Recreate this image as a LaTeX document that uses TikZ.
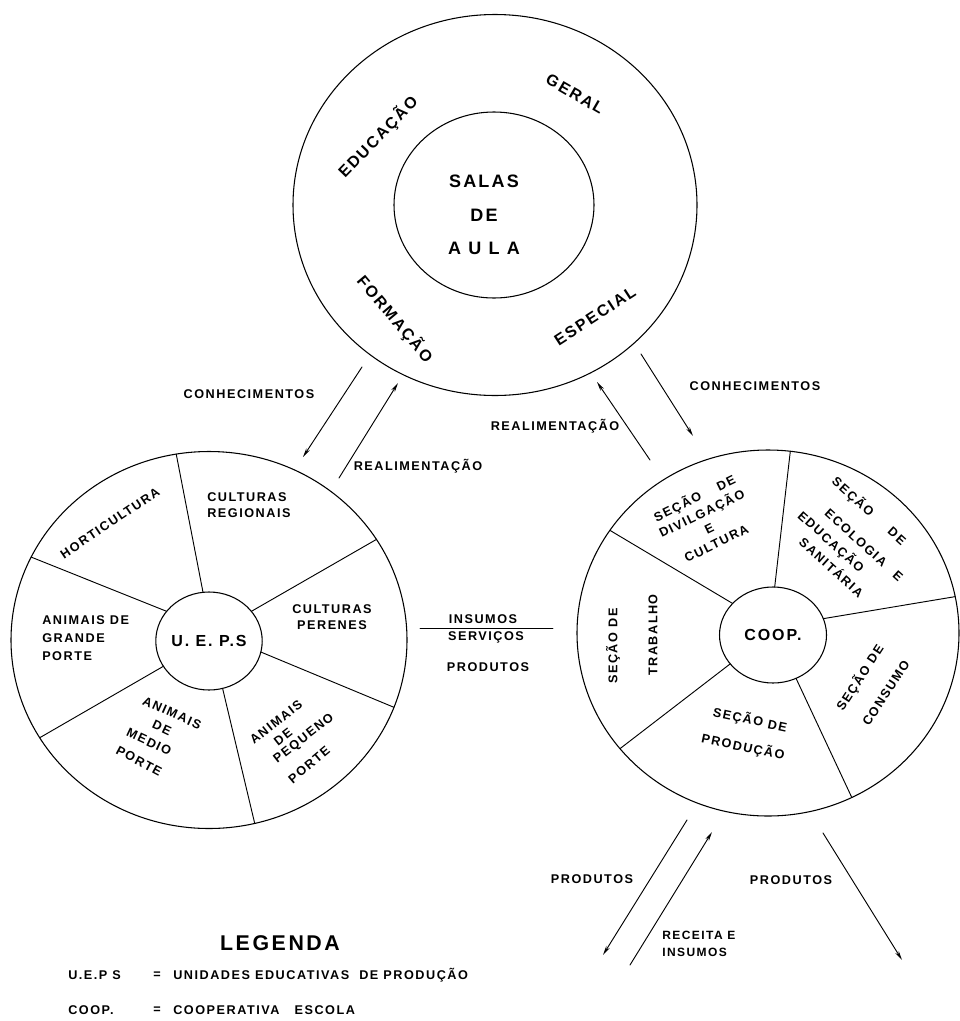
\documentclass[tikz,border=0pt]{standalone}
\usepackage{fontspec}
\setmainfont{Liberation Sans}[LetterSpace=12]
\usetikzlibrary{arrows.meta,shapes.geometric}

\begin{document}
\begin{tikzpicture}[x=0.75pt,y=-0.75pt]
\tikzset{
  ring/.style={ellipse,draw=black,line width=0.8pt,inner sep=0pt,outer sep=0pt},
  spoke/.style={draw=black,line width=0.7pt,line cap=round},
  flow/.style={draw=black,line width=0.7pt,line cap=round,-{Stealth[length=7pt,width=3pt]}},
  txt/.style={inner sep=0pt,font=\bfseries\fontsize{9.5}{12.5}\selectfont},
  ringtxt/.style={inner sep=0pt,font=\bfseries\fontsize{12}{14}\selectfont},
  hubtxt/.style={font=\bfseries\fontsize{12}{14}\selectfont}
}
\useasboundingbox (0,0) rectangle (960,1021);

% top: salas de aula
\node[ring,minimum width=303pt,minimum height=285.75pt] (n_top) at (495,205) {};
\node[ring,minimum width=150pt,minimum height=139.5pt] (n_salas) at (494,205) {};
\node[inner sep=0pt,align=center,font=\bfseries\fontsize{13.5}{25}\selectfont] (n_salas_txt) at (484,215) {SALAS\\DE\\{\addfontfeature{LetterSpace=40}AULA}};
\node[ringtxt,rotate=46] (n_edu) at (378,137) {EDUCAÇÃO};
\node[ringtxt,rotate=-30] (n_geral) at (575,94) {GERAL};
\node[ringtxt,rotate=-50] (n_form) at (395,319) {FORMAÇÃO};
\node[ringtxt,rotate=33] (n_esp) at (595,316) {ESPECIAL};

% left: U.E.P.S
\node[ring,minimum width=297pt,minimum height=282.75pt] (n_ueps_ring) at (209,640) {};
\node[ring,hubtxt,minimum width=79.5pt,minimum height=73.5pt] (n_ueps) at (209,641) {U. E. P.S};
\draw[spoke] (n_ueps.97) -- (n_ueps_ring.100.4);
\draw[spoke] (n_ueps.35) -- (n_ueps_ring.31.6);
\draw[spoke] (n_ueps.-12.8) -- (n_ueps_ring.-20);
\draw[spoke] (n_ueps.-74) -- (n_ueps_ring.-76.7);
\draw[spoke] (n_ueps.209.5) -- (n_ueps_ring.210.4);
\draw[spoke] (n_ueps.145) -- (n_ueps_ring.155);
\node[txt,rotate=34] (n_hort) at (110,523) {HORTICULTURA};
\node[txt,anchor=west,align=left] (n_creg) at (207,505) {CULTURAS\\REGIONAIS};
\node[txt,align=center] (n_cper) at (332,617) {CULTURAS\\PERENES};
\node[txt,anchor=west,align=left,font=\bfseries\fontsize{9.5}{13.5}\selectfont] (n_agp) at (42,638) {ANIMAIS DE\\GRANDE\\PORTE};
\node[txt,rotate=-24] (n_amp1) at (172,713) {ANIMAIS};
\node[txt,rotate=-25] (n_amp2) at (162,728) {DE};
\node[txt,rotate=-25] (n_amp3) at (149,742) {MEDIO};
\node[txt,rotate=-28] (n_amp4) at (139,761) {PORTE};
\node[txt,rotate=38] (n_app1) at (276,722) {ANIMAIS};
\node[txt,rotate=38] (n_app2) at (283,737) {DE};
\node[txt,rotate=38] (n_app3) at (304,739) {PEQUENO};
\node[txt,rotate=40] (n_app4) at (309,765) {PORTE};

% right: COOP.
\node[ring,minimum width=286.5pt,minimum height=274.5pt] (n_coop_ring) at (768,633) {};
\node[ring,hubtxt,minimum width=80.25pt,minimum height=72pt] (n_coop) at (773,635) {COOP.};
\draw[spoke] (n_coop.88) -- (n_coop_ring.83.5);
\draw[spoke] (n_coop.18) -- (n_coop_ring.11.2);
\draw[spoke] (n_coop.-62) -- (n_coop_ring.-63.6);
\draw[spoke] (n_coop.214.9) -- (n_coop_ring.218.4);
\draw[spoke] (n_coop.142.5) -- (n_coop_ring.147);
\node[txt,rotate=26,align=center] (n_divul) at (705,520) {SEÇÃO\hspace{14pt}DE\\DIVILGAÇÃO\\E\\CULTURA};
\node[txt,rotate=-42] (n_eco1) at (869,511) {SEÇÃO\hspace{18pt}DE};
\node[txt,rotate=-42] (n_eco2) at (864,545) {ECOLOGIA\hspace{10pt}E};
\node[txt,rotate=-42] (n_eco3) at (831,542) {EDUCAÇÃO};
\node[txt,rotate=-42] (n_eco4) at (832,567) {SANITÁRIA};
\node[txt,rotate=90] (n_trab1) at (613,646) {SEÇÃO DE};
\node[txt,rotate=90] (n_trab2) at (653,635) {TRABALHO};
\node[txt,rotate=-12] (n_prod1) at (750,720) {SEÇÃO DE};
\node[txt,rotate=-12] (n_prod2) at (743,747) {PRODUÇÃO};
\node[txt,rotate=57] (n_cons1) at (860,678) {SEÇÃO DE};
\node[txt,rotate=57] (n_cons2) at (886,693) {CONSUMO};

% flows
\coordinate (k_l_a) at (362,367);
\coordinate (k_l_b) at (303,457);
\coordinate (r_l_a) at (339,478);
\coordinate (r_l_b) at (398,383);
\coordinate (r_r_a) at (650,460);
\coordinate (r_r_b) at (597,382);
\coordinate (k_r_a) at (641,354);
\coordinate (k_r_b) at (693,436);
\coordinate (m_l) at (420,628);
\coordinate (m_r) at (553,628);
\coordinate (p_l_a) at (687,820);
\coordinate (p_l_b) at (603,955);
\coordinate (ri_a) at (630,965);
\coordinate (ri_b) at (712,832);
\coordinate (p_r_a) at (823,833);
\coordinate (p_r_b) at (902,960);
\draw[flow] (k_l_a) -- (k_l_b);
\draw[flow] (r_l_a) -- (r_l_b);
\draw[flow] (r_r_a) -- (r_r_b);
\draw[flow] (k_r_a) -- (k_r_b);
\draw[spoke] (m_l) -- (m_r);
\draw[flow] (p_l_a) -- (p_l_b);
\draw[flow] (ri_a) -- (ri_b);
\draw[flow] (p_r_a) -- (p_r_b);
\node[txt] (n_kn_l) at (249,394) {CONHECIMENTOS};
\node[txt] (n_fb_l) at (418,466) {REALIMENTAÇÃO};
\node[txt] (n_fb_r) at (555,426) {REALIMENTAÇÃO};
\node[txt] (n_kn_r) at (755,386) {CONHECIMENTOS};
\node[txt] (n_ins) at (483,619) {INSUMOS};
\node[txt] (n_serv) at (486,637) {SERVIÇOS};
\node[txt] (n_prodm) at (488,667) {PRODUTOS};
\node[txt] (n_pr_l) at (592,879) {PRODUTOS};
\node[txt] (n_pr_r) at (791,880) {PRODUTOS};
\node[txt,anchor=west,align=left,font=\bfseries\fontsize{9}{12.75}\selectfont] (n_rec) at (662,944) {RECEITA E\\INSUMOS};

% legenda
\node[inner sep=0pt,font=\bfseries\fontsize{16}{18}\selectfont] (n_leg) at (280,943) {LEGENDA};
\node[txt,anchor=west] (n_leg_a) at (68,975) {U.E.P S};
\node[txt] (n_leg_a_eq) at (157,975) {=};
\node[txt,anchor=west] (n_leg_a_txt) at (173,975) {UNIDADES EDUCATIVAS\ \ DE PRODUÇÃO};
\node[txt,anchor=west] (n_leg_b) at (68,1010) {COOP.};
\node[txt] (n_leg_b_eq) at (157,1010) {=};
\node[txt,anchor=west] (n_leg_b_txt) at (173,1010) {COOPERATIVA\ \ \ ESCOLA};
\end{tikzpicture}
\end{document}
